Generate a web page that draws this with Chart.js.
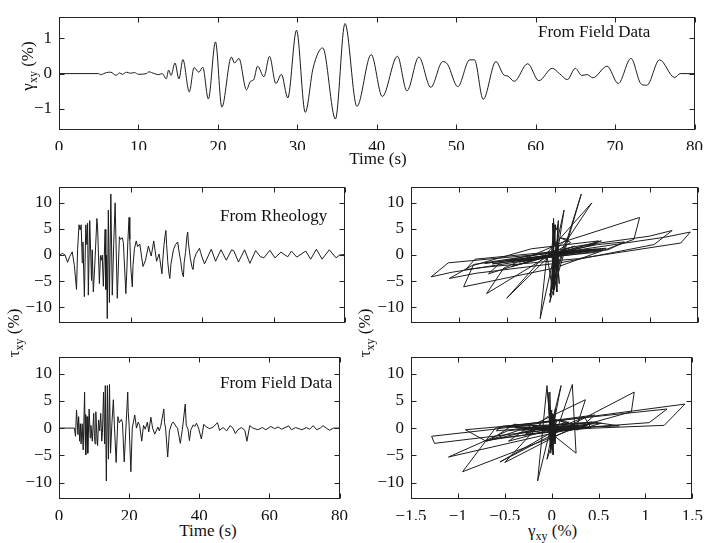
<!DOCTYPE html>
<html><head><meta charset="utf-8">
<script src="https://cdn.jsdelivr.net/npm/chart.js@4.4.1/dist/chart.umd.min.js"></script>
<style>
html,body{margin:0;padding:0;background:#fff;}
#wrap{position:relative;width:710px;height:543px;overflow:hidden;font-family:'Liberation Serif','Times New Roman',serif;color:#111;}
canvas{position:absolute;}
.t{position:absolute;font-size:17px;line-height:17px;white-space:nowrap;}
.t sub{font-size:12px;vertical-align:-4px;line-height:0;}
.c{transform:translateX(-50%);}
.rot{transform:translate(-50%,-50%) rotate(-90deg);}
</style></head>
<body><div id="wrap">
<canvas id="c0" width="710" height="150" style="left:0;top:0;width:710px;height:150px"></canvas>
<canvas id="c1" width="355" height="170" style="left:0;top:170px;width:355px;height:170px"></canvas>
<canvas id="c2" width="355" height="170" style="left:355px;top:170px;width:355px;height:170px"></canvas>
<canvas id="c3" width="355" height="180" style="left:0;top:340px;width:355px;height:180px"></canvas>
<canvas id="c4" width="355" height="180" style="left:355px;top:340px;width:355px;height:180px"></canvas>
<div class="t" style="left:538px;top:23px">From Field Data</div>
<div class="t" style="left:220px;top:207px">From Rheology</div>
<div class="t" style="left:220px;top:374px">From Field Data</div>
<div class="t c" style="left:378px;top:150px">Time (s)</div>
<div class="t c" style="left:208px;top:522px">Time (s)</div>
<div class="t" style="left:528px;top:522px">γ<sub>xy</sub> (%)</div>
<div class="t rot" style="left:27px;top:66px">γ<sub>xy</sub> (%)</div>
<div class="t rot" style="left:13px;top:333px">τ<sub>xy</sub> (%)</div>
<div class="t rot" style="left:364px;top:333px">τ<sub>xy</sub> (%)</div>
</div>
<script>
// ---- tick labels ----
const timeTicksTop = [0,10,20,30,40,50,60,70,80];
const timeTicksBottom = [0,20,40,60,80];
const gammaTicks = [-1,0,1];
const tauTicks = [-10,-5,0,5,10];
const strainTicks = [-1.5,-1,-0.5,0,0.5,1,1.5];

// ---- shear strain record (top panel) ----
const tG = [0,5,5.2,6,6.5,7.2,7.6,8,8.5,9,9.5,10,11,11.3,12,12.5,13,13.5,13.8,14.1,14.6,15.1,15.6,16.4,17,17.6,18.1,18.8,19.7,20.5,21.7,22.1,22.65,23.6,24.1,24.5,25,25.8,26.5,27.3,28,28.8,29.9,31,32,33.2,34.8,36,37.5,39.3,40.7,42.6,43.8,45.3,46.8,48.3,48.9,50.2,51.7,52.3,53.4,55,56,56.5,57.3,59,60.4,62.1,63,64,65,65.8,66.5,67.2,69,70.4,72,73.3,74,75.6,77.5,78.2,80];
const gammaG = [0,0,-0.03,0.03,0.04,-0.05,0.02,-0.02,0.04,0.01,0.03,-0.02,0,0.05,0,-0.03,0,-0.15,0.10,-0.05,0.30,-0.15,0.40,-0.52,0.17,0.04,0.18,-0.72,0.90,-0.95,0.47,0.30,0.43,-0.46,-0.22,-0.18,0.21,-0.09,0.49,-0.28,-0.02,-0.69,1.23,-1.10,0.17,0.73,-1.29,1.42,-0.93,0.54,-0.65,0.49,-0.49,0.47,-0.39,0.34,0.27,-0.37,0.39,0.39,-0.73,0.34,-0.04,-0.07,-0.22,0.28,-0.20,0.15,0.0,-0.17,0.15,-0.05,-0.03,-0.12,0.21,-0.28,0.43,-0.30,-0.33,0.39,-0.11,0.0,0];

// ---- shear stress from rheology, with the strain read at the same instants ----
const tR = [0,1,1.7,2.4,3,3.7,4.3,4.9,5.2,5.6,5.9,6.2,6.5,6.7,7.1,7.5,7.8,8,8.2,8.6,9.1,9.3,9.6,10,10.6,10.8,11.3,11.6,11.9,12.1,12.4,12.9,13.1,13.3,13.5,13.8,14.1,14.5,14.9,15.3,15.7,16.3,16.9,17.2,17.7,18,18.7,19,19.25,19.6,19.8,20.1,20.5,20.7,21.1,21.6,22,22.6,23.5,24.2,25,25.8,26.5,27.3,28,28.8,29,29.35,29.65,29.9,30.1,30.45,30.75,31,31.3,32,32.6,33.2,33.5,34,34.45,34.8,35,35.4,35.75,36,36.2,36.75,37.2,37.5,37.8,38.4,39.3,39.6,40,40.7,42.6,43.8,45.3,46.8,48.3,48.9,50.2,51.9,53.4,55,56.3,57.3,59,60.4,62.1,63,64,65,66.5,69,70.4,72,73.6,75.6,77.5,78.5,80];
const tauR = [0,0.3,0,-1.4,-0.3,0.6,-2.0,-6.6,1.0,5.8,4.8,5.8,-1.5,2.5,-8.0,5.8,2.0,6.1,-7.7,6.6,-4.9,1.0,-7.1,-2.0,7.0,5.2,-5.5,-0.1,-1.0,0,-6.0,4.9,-6.6,0,-12.2,8.6,-9.1,11.7,-7.7,2.0,10.0,-8.3,3.5,3.0,3.3,2.4,-7.4,-2.5,2.5,7.2,3.0,-2.5,-6.1,-2.0,1.2,2.7,1.6,2.1,-2.2,-1.0,1.7,-0.2,2.7,-1.2,0.2,-3.6,-1.2,1.8,3.6,4.7,2.0,-1.5,-3.5,-4.5,-1.8,1.0,2.0,2.5,1.0,-1.0,-3.3,-4.2,-1.5,0.5,3.4,4.4,2.3,-0.7,-2.3,-2.8,-0.8,0.3,1.3,0.5,-0.4,-1.7,1.1,-1.2,1.0,-1.0,1.0,0.8,-1.35,1.0,-1.6,0.85,-0.3,-0.55,0.9,-0.55,0.55,0.1,-0.35,0.75,-0.4,0.75,-0.8,1.1,-0.8,1.0,-0.55,0,0.1];
const gammaR = [0,0,0,0,0,0,0,0,-0.03,0,0.02,0.035,0.04,0.035,-0.045,0.01,0,-0.02,-0.01,0.04,0.015,0.02,0.025,-0.02,-0.01,-0.005,0.05,0.03,0.005,-0.002,-0.025,-0.005,-0.02,-0.08,-0.15,0.10,-0.05,0.28,-0.05,0.10,0.39,-0.5,0.15,0.14,0.06,0.17,-0.71,-0.53,0.09,0.89,0.83,0,-0.95,-0.85,-0.24,0.46,0.33,0.43,-0.45,-0.2,0.21,-0.09,0.49,-0.28,-0.02,-0.69,-0.55,0.27,0.99,1.23,1.04,0.06,-0.82,-1.10,-0.84,0.17,0.45,0.73,0.56,-0.28,-1.07,-1.29,-1.11,0.07,1.15,1.42,1.32,0.25,-0.71,-0.93,-0.83,-0.2,0.54,0.42,-0.05,-0.65,0.49,-0.49,0.47,-0.39,0.34,0.27,-0.37,0.39,-0.73,0.34,-0.06,-0.22,0.28,-0.20,0.15,0,-0.17,0.15,-0.03,0.21,-0.28,0.43,-0.32,0.39,-0.11,0,0];

// ---- shear stress from field data, with the strain read at the same instants ----
const tF = [0,4.4,4.7,5,5.4,5.6,5.9,6.1,6.3,6.6,6.9,7.3,7.45,7.55,7.7,8,8.2,8.6,8.9,9.1,9.5,9.9,10.1,10.3,10.5,10.8,11,11.3,11.6,11.9,12.2,12.4,12.7,13,13.2,13.5,13.8,14.1,14.4,14.7,15.1,15.5,15.8,16.3,16.8,17.2,17.8,18.1,18.6,19.6,19.75,20,20.5,20.9,21.6,22.1,22.6,23,23.6,24.1,24.6,25.2,25.6,26.2,26.7,27.3,28.2,28.6,29,29.9,30.1,30.4,31,31.5,32.2,32.6,33.3,33.8,34.6,34.9,35.2,36,36.3,36.8,37.2,37.6,38.3,38.7,39.2,39.8,40.6,41.3,42,43,44,45.2,45.8,46.8,47.8,48.8,49.6,50.3,51,52,53,53.6,54.4,55.3,56.7,58,59,60.4,61.5,62.5,63.5,65.5,66.3,67.5,69.3,70.5,71.5,72.5,73.5,74.5,75.3,76.2,77.2,78.3,80];
const tauF = [0,0,-1.5,3.3,-1.2,2.1,-2.4,0.8,-2.9,0.8,-4.0,6.6,-1.5,2.5,-4.9,2.1,-4.6,3.5,-1.8,0.5,-2.4,2.7,-1.5,-2.9,3.0,-1.2,-3.2,1.5,-0.5,2.7,-2.4,-0.8,6.6,-2.9,7.8,-9.7,7.8,-5.7,8.0,-4.6,1.0,5.2,0.5,-6.3,2.1,1.0,1.6,1.0,-6.2,6.6,3.0,0.5,-8.0,0,2.4,0,1.1,0.5,-2.4,0.5,-0.2,1.1,-0.7,2.0,0,-1.1,0.2,-0.5,0.3,3.5,1.0,0,-5.3,-0.5,0.9,1.1,0.4,0,-2.8,-1.5,-0.2,4.4,0.5,-0.2,-2.3,-0.3,0.6,0.3,0.9,0,-2.0,0.7,0.2,-0.1,0.2,1.0,-0.4,0.1,-0.5,0.45,0,-1.0,-0.3,0.1,-0.4,-2.4,0.45,0,-0.3,0.1,-0.3,0.3,-0.1,0.2,-0.2,0.4,-0.3,0.1,-0.3,0.1,-0.2,0.45,-0.3,0,0.45,0,-0.4,0,0];
const gammaF = [0,0,0,0,-0.02,-0.01,0.02,0.03,0.035,0.04,-0.01,-0.04,0,0.015,0.015,-0.02,-0.01,0.04,0.015,0.012,0.03,-0.015,-0.02,-0.015,-0.01,-0.005,0,0.05,0.03,0.005,-0.01,-0.025,-0.02,0,-0.05,-0.15,0.10,-0.05,0.22,0.26,-0.15,0.36,0.27,-0.50,-0.05,0.14,0.08,0.18,-0.55,0.88,0.85,0.33,-0.95,-0.6,0.46,0.30,0.43,0.16,-0.46,-0.22,-0.14,0.18,-0.04,0.35,0.42,-0.28,-0.1,-0.59,-0.54,1.23,1.04,0.25,-1.10,-0.47,0.25,0.45,0.72,0.10,-1.25,-1.28,-0.61,1.42,1.2,0.15,-0.71,-0.92,-0.33,0.1,0.53,0.35,-0.64,-0.4,0.2,0.3,-0.47,0.46,0.2,-0.39,0.1,0.29,-0.1,-0.37,0,0.39,-0.35,-0.7,0,0.3,-0.1,0,0.28,-0.20,0,0.13,-0.1,0.05,-0.03,-0.1,0.18,-0.28,0.2,0.38,-0.31,-0.25,0.37,0.3,-0.08,0,0];

const FONT = "'Liberation Serif','Times New Roman',serif";
const INK = '#111';
const fmt = v => String(v).replace('-', '\u2212');

const frame = {
  id: 'frame',
  afterDraw(chart) {
    const ctx = chart.ctx, a = chart.chartArea, xs = chart.scales.x, ys = chart.scales.y;
    const L = Math.round(a.left) + 0.5, R = Math.round(a.right) - 0.5;
    const T = Math.round(a.top) + 0.5, B = Math.round(a.bottom) - 0.5;
    ctx.save();
    ctx.strokeStyle = '#222'; ctx.lineWidth = 1;
    ctx.strokeRect(L, T, R - L, B - T);
    ctx.beginPath();
    xs.ticks.forEach(t => {
      const p = Math.round(xs.getPixelForValue(t.value)) + 0.5;
      ctx.moveTo(p, B); ctx.lineTo(p, B - 5);
      ctx.moveTo(p, T); ctx.lineTo(p, T + 5);
    });
    ys.ticks.forEach(t => {
      const p = Math.round(ys.getPixelForValue(t.value)) + 0.5;
      ctx.moveTo(L, p); ctx.lineTo(L + 5, p);
      ctx.moveTo(R, p); ctx.lineTo(R - 5, p);
    });
    ctx.stroke();
    ctx.restore();
  }
};

function makeChart(id, pts, o) {
  return new Chart(document.getElementById(id), {
    type: 'line',
    data: { datasets: [{ data: pts, borderColor: '#1c1c1c', borderWidth: 1, pointRadius: 0, fill: false,
      tension: 0, cubicInterpolationMode: o.cubic ? 'monotone' : 'default' }] },
    options: {
      responsive: false, animation: false, devicePixelRatio: 1, events: [],
      layout: { autoPadding: false, padding: o.pad },
      plugins: { legend: { display: false }, tooltip: { enabled: false } },
      scales: {
        x: { type: 'linear', min: o.xmin, max: o.xmax,
          afterBuildTicks: s => { s.ticks = o.xt.map(v => ({ value: v })); },
          afterFit: s => { s.height = o.xh; },
          grid: { display: false, drawTicks: false }, border: { display: false },
          ticks: { display: o.xlab, padding: 7, color: INK, font: { family: FONT, size: 17 }, callback: fmt, maxRotation: 0, autoSkip: false } },
        y: { type: 'linear', min: o.ymin, max: o.ymax,
          afterBuildTicks: s => { s.ticks = o.yt.map(v => ({ value: v })); },
          afterFit: s => { s.width = o.yw; },
          grid: { display: false, drawTicks: false }, border: { display: false },
          ticks: { display: true, padding: 7, color: INK, font: { family: FONT, size: 17 }, callback: fmt, autoSkip: false } }
      }
    },
    plugins: [frame]
  });
}

const series = (xs, ys) => xs.map((x, i) => ({ x: x, y: ys[i] }));

makeChart('c0', series(tG, gammaG), { cubic: true, pad: { left: 0, right: 12, top: 7, bottom: 0 }, xh: 20, yw: 59,
  xmin: 0, xmax: 80, xt: timeTicksTop, xlab: true, ymin: -1.6, ymax: 1.6, yt: gammaTicks });
makeChart('c1', series(tR, tauR), { pad: { left: 0, right: 10, top: 9, bottom: 0 }, xh: 7, yw: 59,
  xmin: 0, xmax: 80, xt: timeTicksBottom, xlab: false, ymin: -13, ymax: 13, yt: tauTicks });
makeChart('c2', series(gammaR, tauR), { pad: { left: 0, right: 12, top: 9, bottom: 0 }, xh: 7, yw: 56,
  xmin: -1.5, xmax: 1.5, xt: strainTicks, xlab: false, ymin: -13, ymax: 13, yt: tauTicks });
makeChart('c3', series(tF, tauF), { pad: { left: 0, right: 10, top: 6, bottom: 0 }, xh: 21, yw: 59,
  xmin: 0, xmax: 80, xt: timeTicksBottom, xlab: true, ymin: -13, ymax: 13, yt: tauTicks });
makeChart('c4', series(gammaF, tauF), { pad: { left: 0, right: 12, top: 6, bottom: 0 }, xh: 21, yw: 56,
  xmin: -1.5, xmax: 1.5, xt: strainTicks, xlab: true, ymin: -13, ymax: 13, yt: tauTicks });
</script>
</body></html>
